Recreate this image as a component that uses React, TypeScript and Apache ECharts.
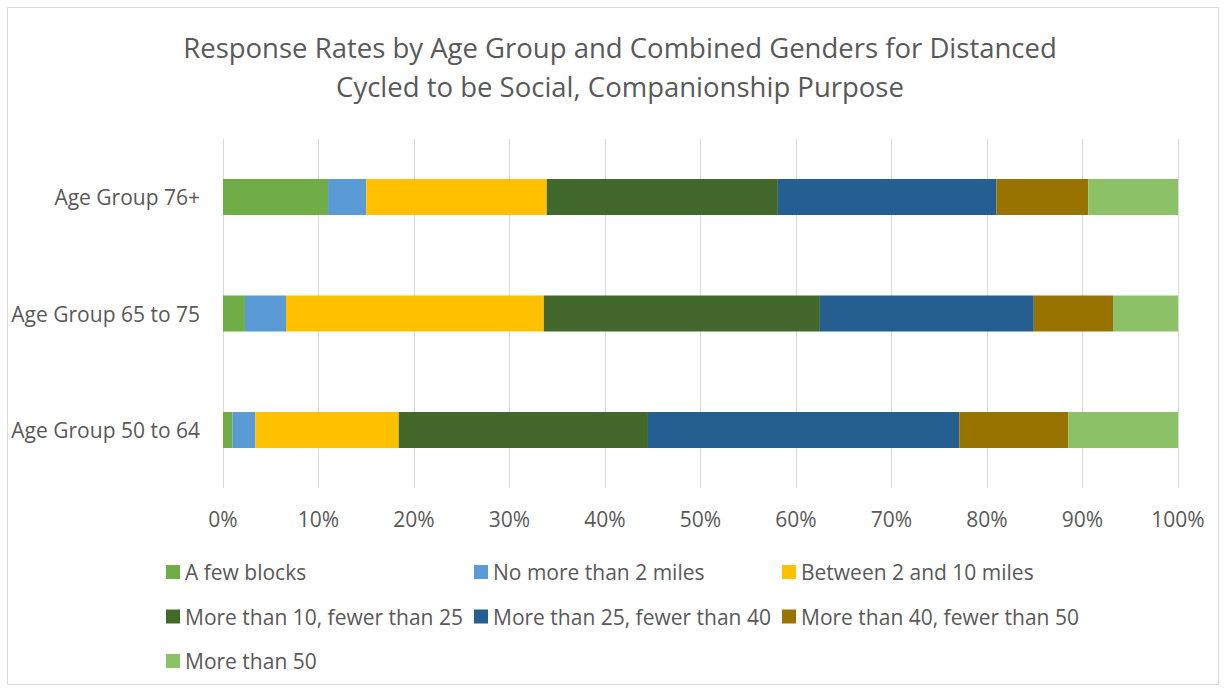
import React, { useEffect, useRef } from "react";
import * as echarts from "echarts";

const categories = ["Age Group 50 to 64", "Age Group 65 to 75", "Age Group 76+"];
const seriesNames = [
  "A few blocks",
  "No more than 2 miles",
  "Between 2 and 10 miles",
  "More than 10, fewer than 25",
  "More than 25, fewer than 40",
  "More than 40, fewer than 50",
  "More than 50",
];
const fewBlocks = [1.0, 2.3, 11.0];
const noMore2 = [2.4, 4.3, 4.0];
const between2and10 = [15.0, 27.0, 18.9];
const from10to25 = [26.1, 28.9, 24.2];
const from25to40 = [32.6, 22.4, 22.9];
const from40to50 = [11.4, 8.3, 9.6];
const moreThan50 = [11.5, 6.8, 9.4];
const seriesValues = [fewBlocks, noMore2, between2and10, from10to25, from25to40, from40to50, moreThan50];
const colors = ["#70AD47", "#5B9BD5", "#FFC000", "#43682B", "#255E91", "#997300", "#8CC168"];
const xTicks = [0, 10, 20, 30, 40, 50, 60, 70, 80, 90, 100];

const titleText =
  "Response Rates by Age Group and Combined Genders for Distanced\nCycled to be Social, Companionship Purpose";

const FONT = "'Open Sans', 'Noto Sans', sans-serif";
const TXT = "#595959";

export default function App() {
  const ref = useRef<HTMLDivElement>(null);
  useEffect(() => {
    if (!ref.current) return;
    const chart = echarts.init(ref.current, null, { renderer: "svg" });
    const legendCols = [
      [seriesNames[0], seriesNames[3], seriesNames[6]],
      [seriesNames[1], seriesNames[4]],
      [seriesNames[2], seriesNames[5]],
    ];
    const legendLefts = [166, 474, 782];
    chart.setOption({
      animation: false,
      color: colors,
      textStyle: { fontFamily: FONT },
      graphic: [
        {
          type: "rect",
          shape: { x: 7.5, y: 7.5, width: 1211, height: 677 },
          style: { fill: "none", stroke: "#d9d9d9", lineWidth: 1 },
          silent: true,
        },
        {
          type: "text",
          x: 620,
          y: 66.5,
          style: {
            text: titleText,
            align: "center",
            verticalAlign: "middle",
            fontSize: 27.5,
            lineHeight: 39,
            fill: TXT,
            fontFamily: FONT,
          },
        },
      ],
      legend: legendCols.map((names, i) => ({
        orient: "vertical",
        left: legendLefts[i],
        top: 560,
        data: names,
        itemWidth: 14,
        itemHeight: 14,
        itemGap: 20.5,
        icon: "rect",
        padding: 0,
        selectedMode: false,
        textStyle: { color: TXT, fontSize: 21, lineHeight: 24, fontFamily: FONT },
      })),
      grid: { left: 223, right: 48, top: 138.75, bottom: 692 - 488.25, containLabel: false },
      xAxis: {
        type: "value",
        min: 0,
        max: 100,
        interval: 10,
        axisLine: { show: false },
        axisTick: { show: false },
        splitLine: { show: true, lineStyle: { color: "#d9d9d9", width: 1 } },
        axisLabel: {
          color: TXT,
          fontSize: 21,
          margin: 20,
          fontFamily: FONT,
          formatter: (v: number) => (xTicks.includes(v) ? v + "%" : ""),
        },
      },
      yAxis: {
        type: "category",
        data: categories,
        axisLine: { show: false },
        axisTick: { show: false },
        splitLine: { show: false },
        axisLabel: { color: TXT, fontSize: 21, margin: 23, fontFamily: FONT },
      },
      series: seriesNames.map((name, i) => ({
        name,
        type: "bar",
        stack: "total",
        barWidth: 36,
        data: seriesValues[i],
        itemStyle: { color: colors[i] },
      })),
    });
    return () => chart.dispose();
  }, []);
  return (
    <div
      ref={ref}
      style={{ position: "absolute", left: 0, top: 0, width: 1226, height: 692, background: "#fff" }}
    />
  );
}
